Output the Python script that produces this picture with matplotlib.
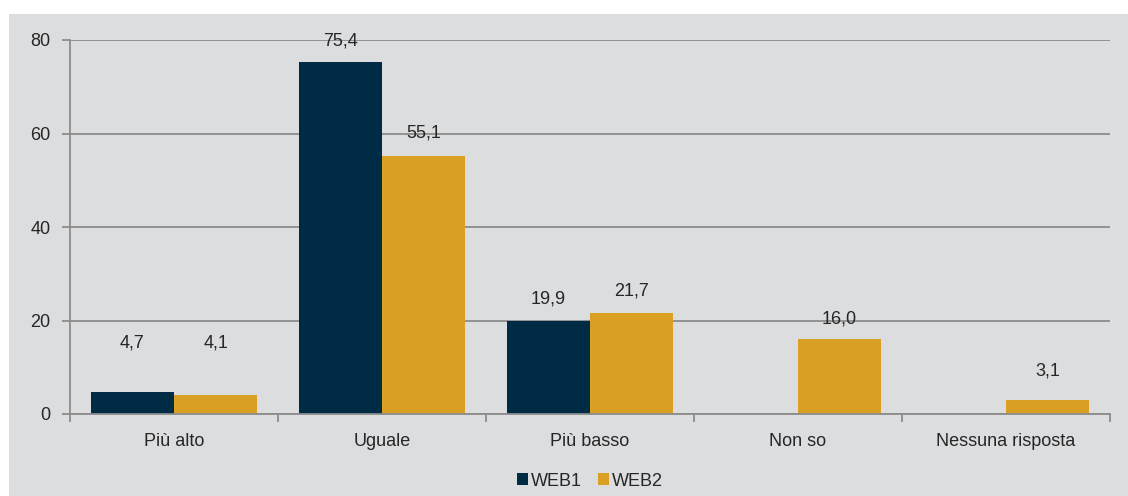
import numpy as np
from matplotlib import pyplot as plt
from matplotlib.patches import Rectangle

categories = ['Più alto', 'Uguale', 'Più basso', 'Non so', 'Nessuna risposta']
web1 = [4.7, 75.4, 19.9, np.nan, np.nan]
web2 = [4.1, 55.1, 21.7, 16.0, 3.1]
series_names = ['WEB1', 'WEB2']

# label lift above bar top, in pixels (the small bars get pushed up like in the original)
lift1 = [49, 21, 22, 0, 0]
lift2 = [52, 23, 22, 20, 29]

navy = '#002B44'
gold = '#D9A024'
panel = '#DCDDDF'
linecol = '#8C8C8C'
textcol = '#262626'
fs = 13

plt.rcParams['font.family'] = ['Liberation Sans', 'DejaVu Sans']

fig = plt.figure(figsize=(11.28, 4.96), dpi=100)
fig.patch.set_facecolor('white')
# gray panel behind the chart
fig.patches.append(Rectangle((9/1128, 0), 1 - 9/1128, 1 - 14/496,
                             transform=fig.transFigure, facecolor=panel,
                             edgecolor='none', zorder=-5))

ax = fig.add_axes([70/1128, 1 - 414/496, 1040/1128, 374/496])
ax.set_facecolor('none')

x = np.arange(len(categories))
w = 0.4
b1 = ax.bar(x - w/2, web1, w, color=navy, label=series_names[0], zorder=2)
b2 = ax.bar(x + w/2, web2, w, color=gold, label=series_names[1], zorder=2)

for bars, vals, lifts in [(b1, web1, lift1), (b2, web2, lift2)]:
    for rect, v, l in zip(bars, vals, lifts):
        if np.isnan(v):
            continue
        ax.annotate(f'{v:.1f}'.replace('.', ','),
                    (rect.get_x() + rect.get_width()/2, v),
                    xytext=(0, l * 0.72), textcoords='offset points',
                    ha='center', va='center', fontsize=fs, color=textcol, zorder=3)

ax.set_xlim(-0.5, len(categories) - 0.5)
ax.set_ylim(0, 80)
ax.set_yticks([0, 20, 40, 60, 80])
ax.yaxis.grid(True, color=linecol, linewidth=1.3, zorder=1)
ax.set_axisbelow(True)

ax.set_xticks(x)
ax.set_xticklabels(categories, fontsize=fs, color=textcol)
ax.set_xticks(np.arange(-0.5, len(categories)), minor=True)
ax.tick_params(axis='x', which='major', length=0, pad=14)
ax.tick_params(axis='x', which='minor', length=6, width=1.3, color=linecol, direction='out')
ax.tick_params(axis='y', length=6, width=1.3, color=linecol, labelsize=fs,
               labelcolor=textcol, pad=8)

for s in ['top', 'right']:
    ax.spines[s].set_visible(False)
for s in ['left', 'bottom']:
    ax.spines[s].set_color(linecol)
    ax.spines[s].set_linewidth(1.3)

ax.legend(loc='center', bbox_to_anchor=(0.5, -67/374), ncol=2, frameon=False,
          fontsize=fs, handlelength=0.6, handleheight=0.6, handletextpad=0.15,
          columnspacing=0.9, labelcolor=textcol, borderaxespad=0, borderpad=0)

fig.savefig('out.png', dpi=100, facecolor=fig.get_facecolor())
